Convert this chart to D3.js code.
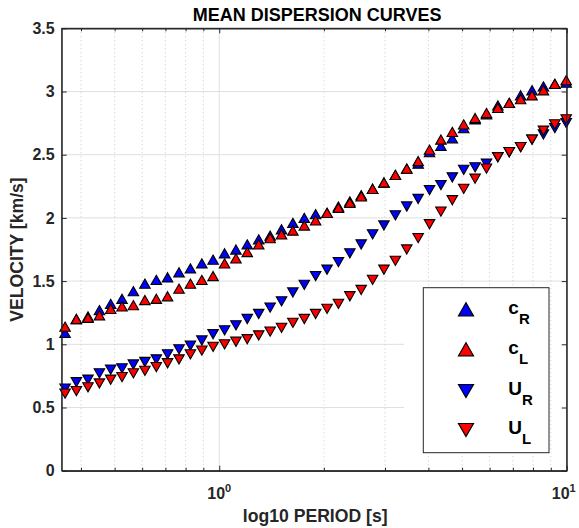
<!DOCTYPE html>
<html>
<head>
<meta charset="utf-8">
<script src="https://cdn.jsdelivr.net/npm/d3@7"></script>
<style>
  body { margin: 0; background: #fff; }
  svg { display: block; font-family: "Liberation Sans", Arial, Helvetica, sans-serif; font-weight: bold; }
</style>
</head>
<body>
<svg id="chart" width="579" height="528"></svg>
<script>
// periods [s]
const periods = [0.360, 0.388, 0.419, 0.452, 0.487, 0.525, 0.566, 0.611, 0.659, 0.710,
  0.766, 0.826, 0.891, 0.960, 1.036, 1.117, 1.204, 1.299, 1.401, 1.511,
  1.629, 1.757, 1.894, 2.043, 2.203, 2.376, 2.562, 2.763, 2.979, 3.213,
  3.465, 3.737, 4.029, 4.345, 4.686, 5.053, 5.450, 5.877, 6.337, 6.834,
  7.370, 7.948, 8.571, 9.243, 9.967];

// phase velocities
const cR = [1.09, 1.20, 1.22, 1.27, 1.32, 1.36, 1.42, 1.48, 1.51, 1.53,
  1.57, 1.60, 1.64, 1.67, 1.72, 1.75, 1.79, 1.83, 1.86, 1.91,
  1.96, 2.00, 2.03, 2.04, 2.09, 2.13, 2.18, 2.23, 2.28, 2.34,
  2.39, 2.43, 2.52, 2.57, 2.63, 2.71, 2.78, 2.82, 2.89, 2.91,
  2.97, 3.01, 3.04, 3.06, 3.07];
const cL = [1.14, 1.20, 1.21, 1.23, 1.28, 1.30, 1.31, 1.35, 1.36, 1.38,
  1.44, 1.48, 1.51, 1.54, 1.64, 1.68, 1.73, 1.79, 1.84, 1.87,
  1.90, 1.94, 1.98, 2.04, 2.08, 2.12, 2.17, 2.23, 2.28, 2.34,
  2.39, 2.45, 2.54, 2.62, 2.68, 2.74, 2.79, 2.83, 2.87, 2.91,
  2.94, 2.97, 3.01, 3.06, 3.09];

// group velocities
const uR = [0.65, 0.70, 0.72, 0.77, 0.80, 0.81, 0.84, 0.86, 0.88, 0.92,
  0.96, 0.99, 1.03, 1.08, 1.11, 1.15, 1.20, 1.24, 1.29, 1.34,
  1.41, 1.47, 1.54, 1.59, 1.65, 1.72, 1.79, 1.87, 1.94, 2.02,
  2.09, 2.15, 2.22, 2.26, 2.32, 2.38, 2.40, 2.43, 2.48, 2.52,
  2.56, 2.62, 2.66, 2.71, 2.75];
const uL = [0.61, 0.63, 0.66, 0.69, 0.72, 0.74, 0.77, 0.79, 0.82, 0.85,
  0.88, 0.92, 0.95, 0.98, 1.00, 1.02, 1.04, 1.07, 1.10, 1.13,
  1.17, 1.20, 1.24, 1.28, 1.32, 1.38, 1.43, 1.51, 1.59, 1.66,
  1.75, 1.84, 1.95, 2.05, 2.14, 2.23, 2.31, 2.39, 2.48, 2.52,
  2.56, 2.62, 2.69, 2.74, 2.78];

const yTicks = [0, 0.5, 1, 1.5, 2, 2.5, 3, 3.5];
const xMajorTicks = [1, 10];
const xMajorLabels = [["10", "0"], ["10", "1"]];
const xMinorTicks = [0.4, 0.5, 0.6, 0.7, 0.8, 0.9, 2, 3, 4, 5, 6, 7, 8, 9];
const legendMain = ["c", "c", "U", "U"];
const legendSub = ["R", "L", "R", "L"];

const width = 579, height = 528;
const margin = { top: 28.3, right: 12.3, bottom: 57.3, left: 61.7 };
const innerWidth = width - margin.left - margin.right;
const innerHeight = height - margin.top - margin.bottom;
const axisColor = '#262626';

const series = [
  { values: cR, color: '#0000ff', up: true },
  { values: cL, color: '#ff0000', up: true },
  { values: uR, color: '#0000ff', up: false },
  { values: uL, color: '#ff0000', up: false }
];

const svg = d3.select('#chart');
const g = svg.append('g').attr('transform', `translate(${margin.left},${margin.top})`);

const xScale = d3.scaleLog().domain([0.352, 10]).range([0, innerWidth]);
const yScale = d3.scaleLinear().domain([0, 3.5]).range([innerHeight, 0]);

// legend box (in plot coords)
const legendBox = { x: 423.3 - margin.left, y: 287.7 - margin.top, w: 125.7, h: 165 };

// grid
g.append('g').selectAll('line').data(yTicks.filter(d => d > 0 && d < 3.5)).join('line')
  .attr('x1', 0)
  .attr('x2', d => {
    const py = yScale(d);
    // matlab cuts these short next to the legend
    return (py > legendBox.y && py < legendBox.y + legendBox.h) ? legendBox.x - 19 : innerWidth;
  })
  .attr('y1', d => yScale(d)).attr('y2', d => yScale(d))
  .attr('stroke', '#dfdfdf').attr('stroke-width', 1);

g.append('g').selectAll('line').data(xMinorTicks).join('line')
  .attr('x1', d => xScale(d)).attr('x2', d => xScale(d))
  .attr('y1', 0).attr('y2', innerHeight)
  .attr('stroke', '#c8c8c8').attr('stroke-width', 1)
  .attr('stroke-dasharray', '1,3');

g.append('line')
  .attr('x1', xScale(1)).attr('x2', xScale(1))
  .attr('y1', 0).attr('y2', innerHeight)
  .attr('stroke', '#dfdfdf').attr('stroke-width', 1);

// axes with inward ticks
const yAxisL = d3.axisLeft(yScale).tickValues(yTicks).tickFormat(d3.format('')).tickSizeInner(-5).tickSizeOuter(0).tickPadding(7);
const yAxisR = d3.axisRight(yScale).tickValues(yTicks).tickSizeInner(-5).tickSizeOuter(0);
const xAxisB = d3.axisBottom(xScale).tickValues(xMajorTicks).tickSizeInner(-5).tickSizeOuter(0);
const xAxisT = d3.axisTop(xScale).tickValues(xMajorTicks).tickSizeInner(-5).tickSizeOuter(0);
const xMinB = d3.axisBottom(xScale).tickValues(xMinorTicks).tickSizeInner(-3).tickSizeOuter(0);
const xMinT = d3.axisTop(xScale).tickValues(xMinorTicks).tickSizeInner(-3).tickSizeOuter(0);

const yAxisG = g.append('g').attr('class', 'axis').call(yAxisL);
const tickOnly = [
  g.append('g').attr('transform', `translate(${innerWidth},0)`).call(yAxisR),
  g.append('g').attr('transform', `translate(0,${innerHeight})`).call(xAxisB),
  g.append('g').call(xAxisT),
  g.append('g').attr('transform', `translate(0,${innerHeight})`).call(xMinB),
  g.append('g').call(xMinT)
];
tickOnly.forEach(a => {
  a.attr('class', 'axis');
  a.selectAll('text').remove();
});

g.selectAll('.axis path').attr('stroke', axisColor);
g.selectAll('.axis line').attr('stroke', axisColor);
yAxisG.selectAll('text')
  .attr('fill', axisColor)
  .style('font-size', '16px')
  .style('font-weight', 'bold')
  .style('font-family', '"Liberation Sans", Arial, sans-serif');

// x tick labels 10^n
const xLab = g.append('g').selectAll('text').data(xMajorTicks).join('text')
  .attr('x', (d, i) => xScale(d) - (i == 1 ? 3 : 0))
  .attr('y', innerHeight + 28)
  .attr('text-anchor', 'middle')
  .attr('fill', axisColor)
  .style('font-size', '16px');
xLab.append('tspan').text((d, i) => xMajorLabels[i][0]);
xLab.append('tspan').attr('dy', -7).style('font-size', '11px').text((d, i) => xMajorLabels[i][1]);

// marker shapes
const tri = (w, h, up) => up
  ? `M0,${-h / 2}L${w / 2},${h / 2}L${-w / 2},${h / 2}Z`
  : `M0,${h / 2}L${w / 2},${-h / 2}L${-w / 2},${-h / 2}Z`;

series.forEach(s => {
  g.append('g').selectAll('path').data(s.values).join('path')
    .attr('d', tri(10.5, 9.2, s.up))
    .attr('transform', (d, i) => `translate(${xScale(periods[i])},${yScale(d)})`)
    .attr('fill', s.color)
    .attr('stroke', '#000')
    .attr('stroke-width', 1.1)
    .attr('stroke-linejoin', 'miter');
});

// box
g.append('rect')
  .attr('width', innerWidth).attr('height', innerHeight)
  .attr('fill', 'none').attr('stroke', axisColor).attr('stroke-width', 1);

// title and axis labels
svg.append('text')
  .attr('x', margin.left + innerWidth / 2 + 3)
  .attr('y', 20.5)
  .attr('text-anchor', 'middle')
  .attr('fill', '#000')
  .style('font-size', '18px')
  .text('MEAN DISPERSION CURVES');

svg.append('text')
  .attr('x', margin.left + innerWidth / 2 + 1)
  .attr('y', 521.5)
  .attr('text-anchor', 'middle')
  .attr('fill', axisColor)
  .style('font-size', '17.6px')
  .text('log10 PERIOD [s]');

svg.append('text')
  .attr('transform', `translate(23,${margin.top + innerHeight / 2}) rotate(-90)`)
  .attr('text-anchor', 'middle')
  .attr('fill', axisColor)
  .style('font-size', '17.6px')
  .text('VELOCITY [km/s]');

// legend
const legend = g.append('g').attr('class', 'legend')
  .attr('transform', `translate(${legendBox.x},${legendBox.y})`);
legend.append('rect')
  .attr('width', legendBox.w).attr('height', legendBox.h)
  .attr('fill', '#fff').attr('stroke', axisColor).attr('stroke-width', 1);

const rowY = [21.6, 61.6, 103.3, 142.3];
series.forEach((s, i) => {
  legend.append('path')
    .attr('d', tri(15, 13, s.up))
    .attr('transform', `translate(42.7,${rowY[i]})`)
    .attr('fill', s.color).attr('stroke', '#000').attr('stroke-width', 1.2);
  const t = legend.append('text')
    .attr('x', 85)
    .attr('y', rowY[i] + 4.5)
    .attr('fill', '#000')
    .style('font-size', '19px');
  t.append('tspan').text(legendMain[i]);
  t.append('tspan').attr('dy', 10).style('font-size', '15px').text(legendSub[i]);
});
</script>
</body>
</html>
